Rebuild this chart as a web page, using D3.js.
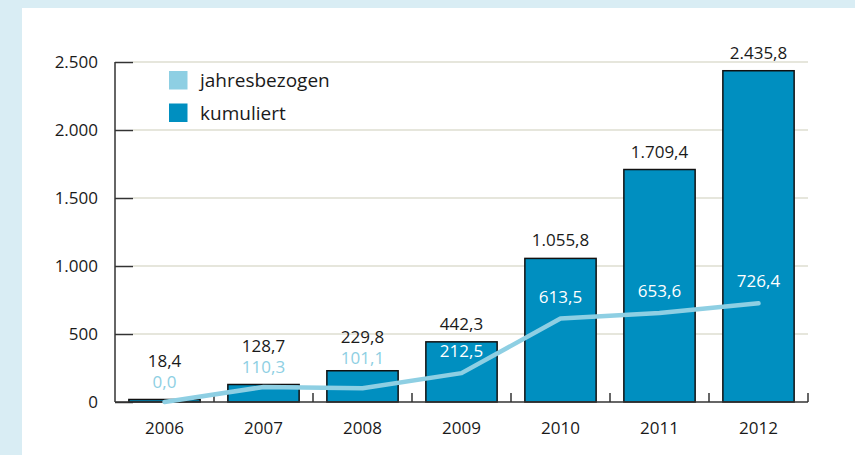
<!DOCTYPE html>
<html>
<head>
<meta charset="utf-8">
<script src="https://cdn.jsdelivr.net/npm/d3@7"></script>
<style>
  html, body { margin: 0; padding: 0; background: #d9edf4; }
  svg { display: block; }
  text { font-family: "Open Sans", sans-serif; }
</style>
</head>
<body>
<svg id="chart" width="855" height="455"></svg>
<script>
const years = ["2006", "2007", "2008", "2009", "2010", "2011", "2012"];
const kumuliert = [18.4, 128.7, 229.8, 442.3, 1055.8, 1709.4, 2435.8];
const jahresbezogen = [0.0, 110.3, 101.1, 212.5, 613.5, 653.6, 726.4];
const yTicks = [0, 500, 1000, 1500, 2000, 2500];
const legendLabels = ["jahresbezogen", "kumuliert"];

const colLight = "#8ecfe3";
const colDark = "#008fc0";
const axisCol = "#333333";

const svg = d3.select("#chart");
// white panel
svg.append("rect").attr("x", 22).attr("y", 8).attr("width", 833).attr("height", 447).attr("fill", "#ffffff");

const mLeft = 115, mRight = 808, mTop = 62, mBottom = 402;
const x = d3.scaleBand().domain(years).range([mLeft, mRight]).paddingInner(0.28).paddingOuter(0.14);
const xb = d3.scaleBand().domain(years).range([mLeft, mRight]); // full bands for ticks
const y = d3.scaleLinear().domain([0, 2500]).range([mBottom, mTop]);

const fmt = v => {
  const s = v.toFixed(1).split(".");
  const intPart = s[0].replace(/\B(?=(\d{3})+(?!\d))/g, ".");
  return intPart + "," + s[1];
};
const fmtTick = v => String(v).replace(/\B(?=(\d{3})+(?!\d))/g, ".");

// gridlines
svg.append("g").selectAll("line").data(yTicks.filter(d => d > 0)).join("line")
  .attr("x1", mLeft + 18).attr("x2", mRight)
  .attr("y1", d => y(d)).attr("y2", d => y(d))
  .attr("stroke", "#e6e6dc").attr("stroke-width", 2);

// y axis
const yAxis = svg.append("g").attr("transform", `translate(${mLeft},0)`)
  .call(d3.axisLeft(y).tickValues(yTicks).tickFormat(fmtTick).tickSize(-18).tickPadding(17));
yAxis.select(".domain").attr("stroke", axisCol).attr("stroke-width", 1.5).attr("d", `M0,${mTop}V${mBottom}`);
yAxis.selectAll(".tick line").attr("stroke", axisCol).attr("stroke-width", 1.5);
yAxis.selectAll(".tick text").attr("font-size", 17).attr("fill", "#1a1a1a").attr("x", -17).attr("dy", "0.35em");

// bars
svg.append("g").selectAll("rect").data(years).join("rect")
  .attr("x", d => x(d)).attr("width", x.bandwidth())
  .attr("y", (d, i) => y(kumuliert[i])).attr("height", (d, i) => y(0) - y(kumuliert[i]))
  .attr("fill", colDark).attr("stroke", "#111").attr("stroke-width", 1.5);

// x axis
const xAxis = svg.append("g").attr("transform", `translate(0,${mBottom})`);
xAxis.append("line").attr("x1", mLeft).attr("x2", mRight).attr("y1", 0).attr("y2", 0)
  .attr("stroke", axisCol).attr("stroke-width", 1.5);
xAxis.selectAll("line.t").data(years).join("line").attr("class", "t")
  .attr("x1", d => xb(d) + xb.bandwidth()).attr("x2", d => xb(d) + xb.bandwidth())
  .attr("y1", 0).attr("y2", -9).attr("stroke", axisCol).attr("stroke-width", 1.5);
xAxis.selectAll("text").data(years).join("text")
  .attr("x", d => xb(d) + xb.bandwidth() / 2).attr("y", 32)
  .attr("text-anchor", "middle").attr("font-size", 17).attr("fill", "#1a1a1a").text(d => d);

// line
const cx = d => x(d) + x.bandwidth() / 2;
svg.append("path").datum(years)
  .attr("d", d3.line().x(d => cx(d)).y((d, i) => y(jahresbezogen[i])))
  .attr("fill", "none").attr("stroke", colLight).attr("stroke-width", 4.5)
  .attr("stroke-linecap", "round").attr("stroke-linejoin", "round");

// labels
const labels = svg.append("g");
years.forEach((yr, i) => {
  const barTop = y(kumuliert[i]);
  const pt = y(jahresbezogen[i]);
  const inside = (pt - 14 - 12) > barTop;
  let annB, cumB;
  if (inside) {
    annB = pt - 16;
    cumB = barTop - 12;
  } else {
    annB = Math.min(pt - 14, barTop - 7);
    cumB = annB - 21;
  }
  labels.append("text").attr("x", cx(yr)).attr("y", annB).attr("text-anchor", "middle")
    .attr("font-size", 17).attr("fill", inside ? "#ffffff" : colLight).text(fmt(jahresbezogen[i]));
  labels.append("text").attr("x", cx(yr)).attr("y", cumB).attr("text-anchor", "middle")
    .attr("font-size", 17).attr("fill", "#1a1a1a").text(fmt(kumuliert[i]));
});

// legend
const leg = svg.append("g");
[colLight, colDark].forEach((c, i) => {
  leg.append("rect").attr("x", 169).attr("y", 71 + i * 32.5).attr("width", 18.5).attr("height", 18.5).attr("fill", c);
  leg.append("text").attr("x", 200).attr("y", 87 + i * 32.5).attr("font-size", 19).attr("fill", "#1a1a1a").text(legendLabels[i]);
});
</script>
</body>
</html>
